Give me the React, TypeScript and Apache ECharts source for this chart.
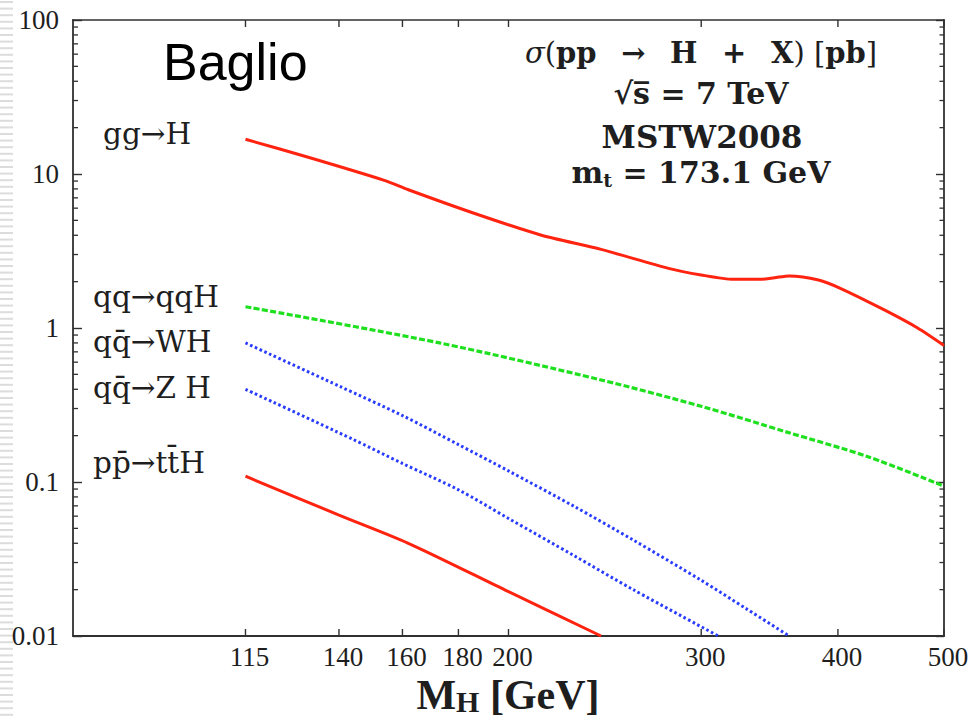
import { useEffect, useRef } from 'react';
import * as echarts from 'echarts';

// Higgs boson production cross sections at the LHC, sqrt(s) = 7 TeV.
// Masses in GeV, cross sections in pb, one pair of arrays per channel.
const ggMass = [115, 131, 154, 162, 186, 214, 243, 280, 300, 321, 340, 350, 361, 384, 402, 441, 473, 500];
const ggSigma = [16.8, 12.9, 9.1, 7.9, 5.56, 4.02, 3.24, 2.44, 2.21, 2.07, 2.07, 2.12, 2.18, 2.05, 1.81, 1.31, 1.0, 0.77];

const vbfMass = [115, 173, 243, 300, 360, 426, 500];
const vbfSigma = [1.375, 0.8, 0.46, 0.31, 0.21, 0.146, 0.094];

const whMass = [115, 140, 160, 180, 200, 230, 260, 300, 330, 361];
const whSigma = [0.8, 0.42, 0.27, 0.175, 0.118, 0.069, 0.042, 0.023, 0.015, 0.01];

const zhMass = [115, 144, 160, 180, 200, 230, 260, 311];
const zhSigma = [0.4, 0.19, 0.132, 0.089, 0.058, 0.033, 0.02, 0.01];

const tthMass = [115, 140, 162, 200, 243];
const tthSigma = [0.109, 0.061, 0.04, 0.0194, 0.01];

// Axis ticks
const xTickValues = [115, 140, 160, 180, 200, 300, 400, 500];
const yDecades = [0.01, 0.1, 1, 10];
const yMinorMultipliers = [2, 3, 4, 5, 6, 7, 8, 9];

// Channel names, top to bottom
const processLabels = ['gg\u2192H', 'qq\u2192qqH', 'qq\u0304\u2192WH', 'qq\u0304\u2192Z H', 'pp\u0304\u2192tt\u0304H'];

const AXIS = '#303030';
const INK = '#1e1e1e';
const RED = '#ff2310';
const GREEN = '#1fe01f';
const BLUE = '#2a3cff';

const zip = (xs: number[], ys: number[]) => xs.map((x, i) => [x, ys[i]]);

// label anchor points (left edge, vertical centre of capitals)
const labelLayout = [
  { x: 103, y: 134 },
  { x: 93, y: 297 },
  { x: 93, y: 342 },
  { x: 93, y: 388 },
  { x: 93, y: 463 },
];

export default function App() {
  const ref = useRef<HTMLDivElement>(null);

  useEffect(() => {
    if (!ref.current) return;
    const chart = echarts.init(ref.current, undefined, { renderer: 'svg' });

    const serif = 'DejaVu Serif';
    const stripes: any[] = [];
    for (let i = 0; i < 110; i++) {
      stripes.push({
        type: 'rect',
        shape: { x: 0, y: i * 6.6 + 1, width: 13, height: 2 },
        style: { fill: '#dcdcdc' },
        silent: true,
      });
    }

    const minorTicks = yDecades.flatMap((d) => yMinorMultipliers.map((m) => [100, +(d * m).toPrecision(2)]));
    const sp = ' \u2002';

    const option: any = {
      animation: false,
      backgroundColor: '#ffffff',
      grid: { left: 73, right: 30, top: 20, bottom: 81, containLabel: false, outerBoundsMode: 'none' },
      xAxis: [
        {
          type: 'log',
          logBase: 10,
          min: 80,
          max: 500,
          position: 'bottom',
          axisLine: { show: true, lineStyle: { color: AXIS, width: 1.8 } },
          axisTick: { show: false },
          axisLabel: { show: false },
          splitLine: { show: false },
          minorTick: { show: false },
        },
        {
          type: 'log',
          logBase: 10,
          min: 80,
          max: 500,
          position: 'top',
          axisLine: { show: true, lineStyle: { color: AXIS, width: 1.6 } },
          axisTick: { show: false },
          axisLabel: { show: false },
          splitLine: { show: false },
        },
      ],
      yAxis: [
        {
          type: 'log',
          logBase: 10,
          min: 0.01,
          max: 100,
          position: 'left',
          axisLine: { show: true, lineStyle: { color: AXIS, width: 1.8 } },
          axisTick: { show: true, inside: true, length: 9, lineStyle: { color: AXIS, width: 1.4 } },
          axisLabel: {
            show: true,
            margin: 14,
            color: INK,
            fontFamily: 'Liberation Serif',
            fontSize: 27,
            formatter: (v: number) => String(+v.toPrecision(3)),
          },
          splitLine: { show: false },
        },
        {
          type: 'log',
          logBase: 10,
          min: 0.01,
          max: 100,
          position: 'right',
          axisLine: { show: true, lineStyle: { color: AXIS, width: 1.8 } },
          axisTick: { show: true, inside: true, length: 8, lineStyle: { color: AXIS, width: 1.4 } },
          axisLabel: { show: false },
          splitLine: { show: false },
        },
      ],
      series: [
        {
          name: 'gg\u2192H',
          type: 'line',
          data: zip(ggMass, ggSigma),
          symbol: 'none',
          smooth: 0.25,
          lineStyle: { color: RED, width: 3 },
        },
        {
          name: 'qq\u2192qqH',
          type: 'line',
          data: zip(vbfMass, vbfSigma),
          symbol: 'none',
          smooth: 0.3,
          lineStyle: { color: GREEN, width: 3.2, type: [6, 2.4] },
        },
        {
          name: 'WH',
          type: 'line',
          data: zip(whMass, whSigma),
          symbol: 'none',
          smooth: 0.3,
          lineStyle: { color: BLUE, width: 3, type: [2.6, 2.6] },
        },
        {
          name: 'ZH',
          type: 'line',
          data: zip(zhMass, zhSigma),
          symbol: 'none',
          smooth: 0.3,
          lineStyle: { color: BLUE, width: 3, type: [2.6, 2.6] },
        },
        {
          name: 'ttH',
          type: 'line',
          data: zip(tthMass, tthSigma),
          symbol: 'none',
          smooth: 0.3,
          lineStyle: { color: RED, width: 3 },
        },
        {
          // mass ticks and labels on the bottom axis, mirrored ticks on the top axis
          type: 'custom',
          silent: true,
          clip: false,
          data: xTickValues.map((v) => [v, 1]),
          renderItem: (params: any, api: any) => {
            const cs = params.coordSys;
            const v = api.value(0);
            const x = api.coord([v, 1])[0];
            const bottom = cs.y + cs.height;
            return {
              type: 'group',
              children: [
                { type: 'line', shape: { x1: x, y1: bottom, x2: x, y2: bottom - 7 }, style: { stroke: AXIS, lineWidth: 1.4 } },
                { type: 'line', shape: { x1: x, y1: cs.y, x2: x, y2: cs.y + 7 }, style: { stroke: AXIS, lineWidth: 1.4 } },
                {
                  type: 'text',
                  x: x + 4,
                  y: bottom + 21,
                  style: {
                    text: String(v),
                    fill: INK,
                    font: '27px "Liberation Serif"',
                    textAlign: 'center',
                    textVerticalAlign: 'middle',
                  },
                },
              ],
            };
          },
        },
        {
          // minor decade ticks on both vertical axes
          type: 'custom',
          silent: true,
          clip: false,
          data: minorTicks,
          renderItem: (params: any, api: any) => {
            const cs = params.coordSys;
            const y = api.coord([100, api.value(1)])[1];
            const r = cs.x + cs.width;
            return {
              type: 'group',
              children: [
                { type: 'line', shape: { x1: cs.x, y1: y, x2: cs.x + 5, y2: y }, style: { stroke: AXIS, lineWidth: 1.3 } },
                { type: 'line', shape: { x1: r, y1: y, x2: r - 4.5, y2: y }, style: { stroke: AXIS, lineWidth: 1.3 } },
              ],
            };
          },
        },
      ],
      graphic: [
        ...stripes,
        {
          type: 'text',
          x: 163,
          y: 62,
          style: {
            text: 'Baglio',
            fill: '#000000',
            font: '52px "Liberation Sans"',
            textAlign: 'left',
            textVerticalAlign: 'middle',
          },
        },
        {
          type: 'text',
          x: 701,
          y: 53,
          style: {
            text: `{i|\u03c3}{r|(}{b|pp${sp}\u2192${sp}H${sp}+${sp}X}{r|)} {r|[}{b|pb}{r|]}`,
            fill: INK,
            font: `29px "${serif}"`,
            textAlign: 'center',
            textVerticalAlign: 'middle',
            rich: {
              i: { fontFamily: serif, fontStyle: 'italic', fontSize: 29, fill: INK },
              r: { fontFamily: serif, fontSize: 29, fill: INK },
              b: { fontFamily: serif, fontWeight: 'bold', fontSize: 29, fill: INK },
            },
          },
        },
        {
          type: 'text',
          x: 701,
          y: 93,
          style: {
            text: '\u221as\u0305 = 7 TeV',
            fill: INK,
            font: `bold 30px "${serif}"`,
            textAlign: 'center',
            textVerticalAlign: 'middle',
          },
        },
        {
          type: 'text',
          x: 702,
          y: 137,
          style: {
            text: 'MSTW2008',
            fill: INK,
            font: `bold 31px "${serif}"`,
            textAlign: 'center',
            textVerticalAlign: 'middle',
          },
        },
        {
          type: 'text',
          x: 701,
          y: 172,
          style: {
            text: '{b|m}{s|t}{b| = 173.1 GeV}',
            fill: INK,
            font: `bold 30px "${serif}"`,
            textAlign: 'center',
            textVerticalAlign: 'middle',
            rich: {
              b: { fontFamily: serif, fontWeight: 'bold', fontSize: 30, lineHeight: 35, fill: INK },
              s: { fontFamily: serif, fontWeight: 'bold', fontSize: 19, lineHeight: 16, verticalAlign: 'bottom', fill: INK },
            },
          },
        },
        ...processLabels.map((t, i) => ({
          type: 'text',
          x: labelLayout[i].x,
          y: labelLayout[i].y,
          style: {
            text: t,
            fill: INK,
            font: `29.5px "${serif}"`,
            textAlign: 'left',
            textVerticalAlign: 'middle',
          },
        })),
        {
          type: 'text',
          x: 508,
          y: 695,
          style: {
            text: '{m|M}{h|H} {m|[GeV]}',
            fill: INK,
            font: 'bold 42px "Liberation Serif"',
            textAlign: 'center',
            textVerticalAlign: 'middle',
            rich: {
              m: { fontFamily: 'Liberation Serif', fontWeight: 'bold', fontSize: 42, lineHeight: 40, fill: INK },
              h: { fontFamily: 'Liberation Serif', fontWeight: 'bold', fontSize: 30, lineHeight: 17, verticalAlign: 'bottom', fill: INK },
            },
          },
        },
      ],
    };

    chart.setOption(option);
    return () => chart.dispose();
  }, []);

  return (
    <div
      ref={ref}
      style={{ position: 'fixed', left: 0, top: 0, width: 974, height: 717, background: '#ffffff' }}
    />
  );
}
